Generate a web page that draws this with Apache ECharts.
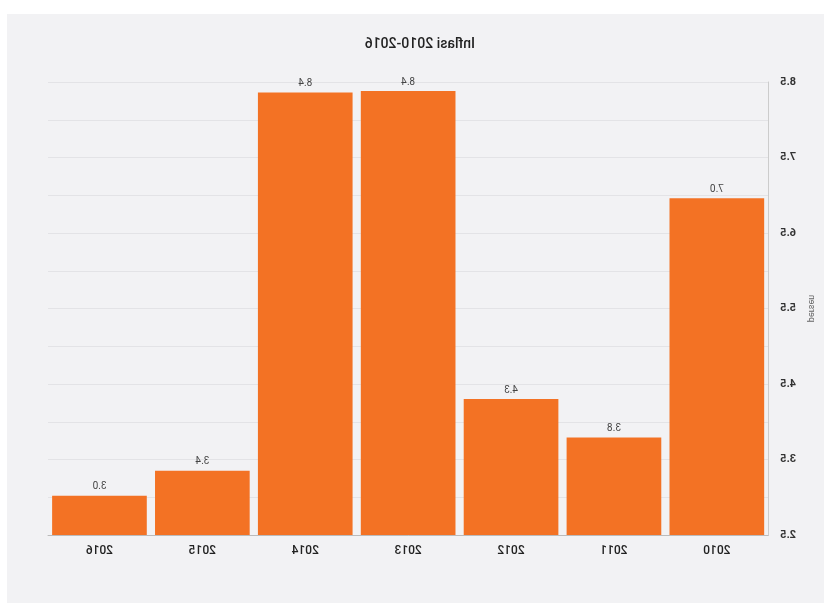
<!DOCTYPE html>
<html>
<head>
<meta charset="utf-8">
<script src="https://cdn.jsdelivr.net/npm/echarts@6/dist/echarts.min.js"></script>
<style>
  html, body { margin: 0; padding: 0; background: #fff; }
  /* the reference is a mirrored picture of the chart */
  #chart {
    position: absolute;
    left: 7px;
    top: 14px;
    width: 817px;
    height: 589px;
    background: #f2f2f4;
    transform: scaleX(-1);
  }
</style>
</head>
<body>
<div id="chart"></div>
<script>
var years = ['2010', '2011', '2012', '2013', '2014', '2015', '2016'];
var inflasi = [6.96, 3.79, 4.30, 8.38, 8.36, 3.35, 3.02];

var chart = echarts.init(document.getElementById('chart'));

chart.setOption({
  animation: false,
  textStyle: { fontFamily: 'Roboto, "DejaVu Sans", sans-serif' },
  title: {
    text: 'Inflasi 2010-2016',
    left: 344,
    top: 18,
    textStyle: { fontSize: 14, fontWeight: 500, color: '#222' }
  },
  grid: {
    left: 45,
    right: 41,
    top: 68,
    bottom: 68
  },
  xAxis: {
    type: 'category',
    data: years,
    axisTick: { show: false },
    axisLine: { lineStyle: { color: '#bbb' } },
    axisLabel: { color: '#222', fontSize: 12, fontWeight: 500, margin: 10 }
  },
  yAxis: {
    type: 'value',
    min: 2.5,
    max: 8.5,
    interval: 0.5,
    name: 'persen',
    nameLocation: 'middle',
    nameGap: 37,
    nameTextStyle: { fontSize: 9, color: '#666' },
    axisLine: { show: true, lineStyle: { color: '#ccc' } },
    axisTick: { show: false },
    axisLabel: {
      color: '#333',
      fontSize: 11,
      fontWeight: 'bold',
      margin: 12,
      formatter: function (v) {
        return Math.round(v * 2) % 2 === 1 ? v.toFixed(1) : '';
      }
    },
    splitLine: { lineStyle: { color: '#e3e3e6' } }
  },
  series: [
    {
      type: 'bar',
      data: inflasi,
      barCategoryGap: '8%',
      itemStyle: { color: '#f37224' },
      label: {
        show: true,
        position: 'top',
        distance: 4,
        fontSize: 10,
        color: '#444',
        formatter: function (p) { return p.value.toFixed(1); }
      }
    }
  ]
});
</script>
</body>
</html>
